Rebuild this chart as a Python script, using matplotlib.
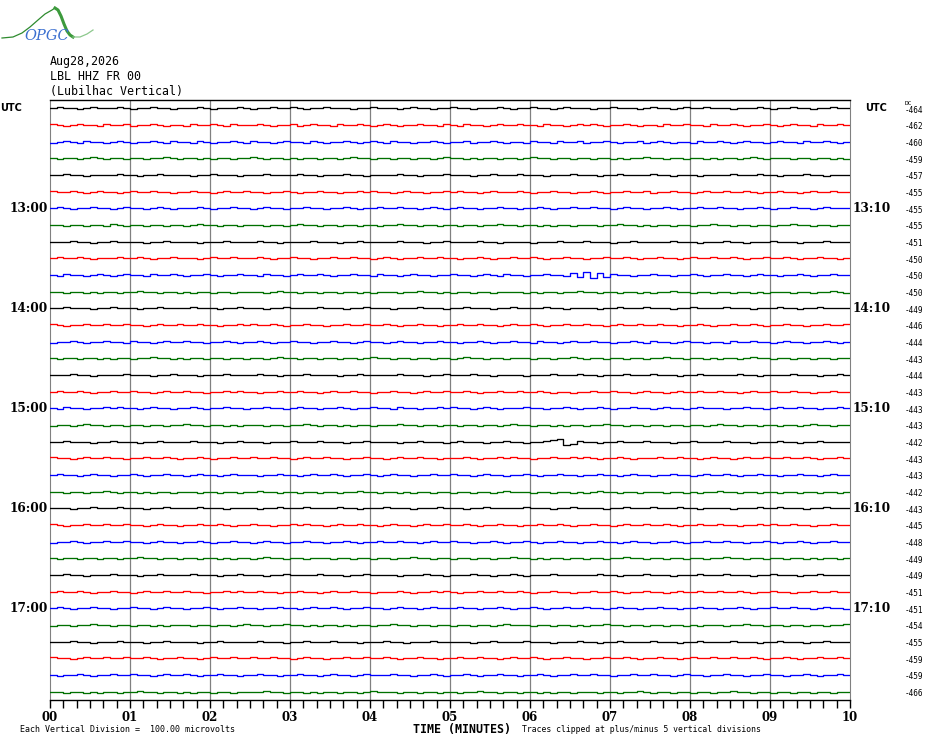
import numpy as np
import matplotlib.pyplot as plt
from matplotlib import transforms

# helicorder rows, one every 10 minutes from 12:00 to 17:50 UTC
# each string is the trace, left to right,
# '.'=0  '+'=+1  '-'=-1  '^'=+2  'v'=-2  '*'=+3  '_'=-3  (pixel-ish counts)
TRACES = [
    ".+..-.+... +.-..+..-. ..+.-...+. -..+..+.-. .+...-..+. ..-.+..-.. +..-...+.- ..+..-.+.. .-..+...-. +..-.+..+. ..-...+.-. .+..-..+..",
    "+.-.+..-+. .+-..+.-.. -+..+.-+.. .+.-..+-.+ ..-+..+.-. +.-..+..-+ .-+..-.+.. +..-+..-.+ .+.-..+.-. .-+..+..-+ ..+.-..+.- .+..-+..+.",
    "-.+.-+..-. +.-..+.-+. .-+.-..+.- +..-.+..-+ .-..+.-.+. -+..-..+.- ..+-..+.-. .-+..-+..+ -..+.-..+- .+.-..-+.. +.-.+..-.+ ..-+..+.-.",
    ".-..-.+.-. .-..-..+.- ..-.-..-.. +.-..-.-.. -..-.+..-. .-..-..-.+ ..-.-..-.. -.+..-..-. .-..-.-..+ ..-..-..-. -..-.+.-.. .-..-..-.-",
    "..+..-.... +..-..+... .-..+...-. ..+....+.. -...+..-.. ..+..-...+ ...-..+... +...-...+. ..-..+.... +..-...-.. ..+...+..- ...+..-...",
    "+..+.-.+.. -.+..+..-. .+..-.+..+ ..-..+.-.. +..-..+.+. .-.+..-..+ .+..-.+... +.-..+..-. .+.-..+..+ -..+..-.+. .+..+.-..+ ..-.+..+..",
    ".+.-..+..- .+..-.+.-. ..+.-..+.. -.+..-..+. .-..+.-..+ ..+..-.+.- .+..-..+.. -..+.-..+. .+..-.+..- ..+.-..+.. +..-..+.-. .+..-.+...",
    "..-..-..-+ .-..-..-.. -.+..-..-. ..-..-.+.. -..-..-..- ..+..-..-. .-..-..+.. -..-.-..-. ..-..+..-. -..-..-..+ ..-..-..-. .+..-..-..",
    "...+..-..+ ....-..+.. ..-...+... .+..-....+ ...-..+... ..+...-..+ ....+..-.. ..-...+... +...-..+.. ...+...-.. .+..-...+. ..-...+...",
    ".+..+.-... +..+.-..+. ..-.+..+.. .+.-..+..- ..+..+..-. +.-..+..+. .-..+.-..+ ..+.-..+.. -..+..+.-. .+..-.+..+ ..+.-..+.. +.-..+..-.",
    ".-+..-.+.- .+..-+..+. -..+.-..+. .-+..-.+.. +.-..+..-+ ..-.+..-.. +..-.+.-+. .-..+..-^v *_^v+..-.. +..-..+.-. .+..-.+..- ..+.-..+..",
    "..-..-.-.. -..+..-..- .-..-..-.. ..-.+..-.. -..-..-.-. ..-..+..-. -..-..-... .-.-..-..+ ..-..-..-. -..+..-..- ..-..-.-.. .-..-..+.-",
    "..+...-..+ ...-..+... .+...-..+. ..-..+.... +...-..+.. .-...+...- ..+...-..+ ....+..-.. ..-..+...+ ...-..+... .+...-...+ ..-..+....",
    "+.-..+..+. .+..-.+..+ ..+..-..+. +..+.-..+. .-..+..+.. +.-..+..-. .+..+..-.+ ..+.-..+.. +..-.+..+. .+..-..+.- ..+..+.-.. +..-..+..+",
    "-..+.-..+. .-+..-.+.. +..-..+.-. .+.-..+..- ..+..-.+.. -.+..-..+. .-..+.-..+ ..-+..-.+. .+..-..+.- +..-.+..-. .-+..+..-. +..-..+.-.",
    ".-..-..-.- ..-..+..-. -..-..-..- ..-.+..-.. -..-..-.+. .-..-..-.. -.+..-..-. ..-..-..+. -..-..-..- ..+..-..-. -..-.+..-. .-..-..-..",
    "...+..-... .+...-..+. ..-...+... .+..-...+. ...-..+... ..+...-..+ ...+..-... .-...+...+ ..-...+... +...-..+.. ...+..-... .+...-..+.",
    ".+..+.-..+ ..+..-.+.. +..-..+.+. .-..+..+.. -.+..+..-. .+..-.+..+ ..+.-..+.. +..+.-..-. .+..+..-.+ ..-.+..+.. +..-.+..+. .+..-..+..",
    ".-+..-..+. +..-.+..-. .+.-..+..- ..+..-.+.. -..+.-..+. .-+..-..+. +..-.+.-.. .+..-..+.- ..+.-..+.. -.+..-.+.. .-..+..-.+ ..+..-..+.",
    "-..-.+..-. .-..-..-.. +..-..-.-. ..-..-..+. -..-.-..-. ..+..-..-. .-..-..-.+ ..-..-.-.. -..+..-..- ..-..-..-. +..-..-..- ..-.+..-..",
    "..+...-..+ ...-..+... .+...-..+. ..-...+... +...-..+.. ..-..+...- .+...-..+. .-..+^*_v+ ..-..+...+ ...-..+... .+...-...+ ..-..+....",
    "+..-.+..+. .-..+..+.- ..+.-..+.. +..+..-.+. .+..-..+.. -.+..+..-. ..+.-..+.+ ..-..+..+. +.-..+.-.. .+..+..-.+ ..-.+..+.. +..+.-..+.",
    ".+..-.+..- ..+.-..+.. -.+..-.+.. .-..+..-.+ ..+.-..+.- .+..-..+.. +..-.+..-. .+.-..+..- ..+..-.+.. -..+..-.+. .+.-..+..- ..+..-.+..",
    "..-..-..+. -..-.-..-. ..-..-..-. .+..-..-.. -..-..+..- ..-.-..-.. -..-..-.+. ..-..-..-. -.+..-..-. ..-..-.-.. +..-..-..- ..-..-..-.",
    "...-..+... +...-..+.. ..+...-... .-..+...+. ...+..-... +...-...+. ..-..+.... .+...-..+. ...-..+... +...+..-.. ..-...+..+ ...-..+...",
    "+.-..+..+. .+..-.+..- ..+..+.-.. +..-..+.+. .-.+..+..- .+..-.+..+ ..+.-..+.. -..+..+.-. .+..-.+..+ ..+.-..+.. +..-..+.+. .+..-..+..",
    "-..+.-..+. .+..-.+..- ..+.-..+.. -.+..-..+. .-..+.-..+ ..+..-.+.. +..-..+.-. .+.-..+..- ..+..-.+.. -..+.-..+. .+..-..+.- ..+.-..+..",
    ".-..-..-.. -..+..-..- ..-..-.-.. -.+..-..-. ..-..-..-. .-..+..-.. -..-..-..+ ..-.-..-.. -..-..+..- ..-..-..-. .+..-..-.. -..-.-..-.",
    "..+..-...+ ...-..+... .+...-..+. ..-..+.... +...-..+.. ..-...+..- ...+..-..+ .-...+.... ..+..-...+ ...-...+.. .+...-..+. ..-..+....",
    ".+..+.-..+ ..-.+..+.. +..-..+.+. .+..-..+.. -.+..+..-. ..+.-..+.+ .-..+..+.. +.-..+..-. .+..+.-..+ ..-.+..+.. +..+.-..+. .-..+..+..",
    ".+.-..+..- ..+..-.+.. -..+.-..+. .-..+..-.+ ..+.-..+.. -.+..-.+.. .+..-..+.- ..+.-..+.. +..-.+..-. .+..-..+.. -..+.-..+. .+..-.+..-",
    "-..-..+..- ..-..-.-.. .-..-..-.+ ..-..+..-. -..-.-..-. .+..-..-.. -..-..-.+. ..-..-..-. -..+..-..- ..-..-.-.. .-..+..-.. -..-..-..+",
    "...+..-... +...-..+.. ..-..+.... .+...-..+. ..+...-... +..-...+.. ...-..+... .+...-...+ ..-..+.... +...-..+.. ..+...-..+ ...-..+...",
    "+..-.+..+. .+..+.-..+ ..-.+..+.. +..+..-.+. .-..+..+.. +.-..+..-. .+..+..-.+ ..+.-..+.. -..+..+.-. .+..-.+..+ ..+..+.-.. +.-..+..+.",
    ".-..+.-..+ ..+..-.+.. +.-..+..-. .+..-..+.. -.+..-.+.. .+..-..+.- ..+.-..+.. -..+.-..+. .+..-..+.. +..-.+..-. .+..-..+.. -..+.-..+.",
    "..-..-.-.. -..+..-..- .-..-..-.. ..+..-..-. -..-..-.+. ..-..-..-. .-..+..-.. -..-.-..-. ..-..-..+. -..-..-..- ..+..-..-. .-..-..-..",
]

DC_LABELS = [-464, -462, -460, -459, -457, -455, -455, -455, -451, -450, -450, -450,
             -449, -446, -444, -443, -444, -443, -443, -443, -442, -443, -443, -442,
             -443, -445, -448, -449, -449, -451, -451, -454, -455, -459, -459, -466]

HOUR_ROWS = [6, 12, 18, 24, 30]
LEFT_TIMES = ["13:00", "14:00", "15:00", "16:00", "17:00"]
RIGHT_TIMES = ["13:10", "14:10", "15:10", "16:10", "17:10"]
MINUTES = list(range(11))
MINUTE_LABELS = ["%02d" % m for m in MINUTES]

COLORS = ["black", "#ff0000", "#0000ff", "#007000"]
CODES = {".": 0, "+": 1, "-": -1, "^": 2, "v": -2, "*": 3, "_": -3}
COUNT_SCALE = 0.06  # one count ~ one pixel, row spacing ~16.7 px

W, H = 930, 744
fig = plt.figure(figsize=(W / 100, H / 100), dpi=100)
ax = fig.add_axes([50 / W, 44 / H, 800 / W, 600 / H])

n_rows = len(TRACES)
for i, s in enumerate(TRACES):
    vals = np.array([CODES[c] for c in s.replace(" ", "")], dtype=float)
    t = (np.arange(len(vals)) + 0.5) * 10.0 / len(vals)
    t = np.concatenate([[0.0], t, [10.0]])
    vals = np.concatenate([[vals[0]], vals, [vals[-1]]])
    ax.plot(t, -i + vals * COUNT_SCALE, color=COLORS[i % 4], lw=0.95,
            drawstyle="steps-mid", zorder=3)

for m in MINUTES[1:-1]:
    ax.axvline(m, color="#808080", lw=0.9, zorder=1)

ax.set_xlim(0, 10)
ax.set_ylim(-n_rows + 0.5, 0.5)
ax.set_yticks([])
ax.set_xticks(MINUTES)
ax.set_xticklabels(MINUTE_LABELS, fontfamily="DejaVu Serif", fontweight="bold",
                   fontsize=8.5)
ax.set_xticks(np.arange(0, 10.01, 1 / 6), minor=True)
ax.tick_params(axis="x", which="both", direction="out", length=6, width=1,
               color="black", pad=2)
ax.spines["left"].set_color("#808080")
ax.spines["right"].set_color("#808080")
for side in ["top", "bottom"]:
    ax.spines[side].set_color("black")
    ax.spines[side].set_linewidth(1.0)

# texts alongside rows: x in figure fraction, y in data rows
trans = transforms.blended_transform_factory(fig.transFigure, ax.transData)
for r, lt, rt in zip(HOUR_ROWS, LEFT_TIMES, RIGHT_TIMES):
    ax.text(48 / W, -r, lt, transform=trans, ha="right", va="center",
            fontfamily="DejaVu Serif", fontweight="bold", fontsize=8.7)
    ax.text(853 / W, -r, rt, transform=trans, ha="left", va="center",
            fontfamily="DejaVu Serif", fontweight="bold", fontsize=8.7)
for i, dc in enumerate(DC_LABELS):
    ax.text(905 / W, -i - 0.1, str(dc), transform=trans, ha="left", va="center",
            fontfamily="DejaVu Sans Mono", fontsize=5.6)

ax.text(0, 0.05, "UTC", transform=trans, ha="left", va="center",
        fontweight="bold", fontsize=7)
ax.text(865 / W, 0.05, "UTC", transform=trans, ha="left", va="center",
        fontweight="bold", fontsize=7)
ax.text(905 / W, 0.3, "DC", transform=trans, ha="left", va="center",
        fontfamily="DejaVu Sans Mono", fontsize=4.5)

# header
mono = "DejaVu Sans Mono"
fig.text(50 / W, 1 - 62 / H, "Aug28,2026", family=mono, fontsize=8.4, va="center")
fig.text(50 / W, 1 - 77 / H, "LBL HHZ FR 00", family=mono, fontsize=8.4, va="center")
fig.text(50 / W, 1 - 91 / H, "(Lubilhac Vertical)", family=mono, fontsize=8.4,
         va="center")

# footer
fig.text(20 / W, 1 - 730 / H, "Each Vertical Division =  100.00 microvolts",
         family=mono, fontsize=6.0, va="center")
fig.text(413 / W, 1 - 729 / H, "TIME (MINUTES)", family=mono, fontweight="bold",
         fontsize=8.4, va="center")
fig.text(522 / W, 1 - 730 / H, "Traces clipped at plus/minus 5 vertical divisions",
         family=mono, fontsize=5.9, va="center")

# OPGC logo, top left
logo = fig.add_axes([0, 1 - 45 / H, 100 / W, 45 / H])
logo.set_xlim(0, 100)
logo.set_ylim(45, 0)
logo.axis("off")
logo_x = [2, 13, 22, 30, 38, 45, 52, 55]
logo_y = [38, 37, 33, 27, 20, 14, 10, 8]
logo.plot(logo_x, logo_y, color="#2e8b2e", lw=0.9)
logo.plot([55, 58, 61, 64, 67, 70, 73], [8, 10, 16, 24, 31, 35, 37],
          color="#3c9a3c", lw=2.2)
logo.plot([73, 80, 87, 93], [37, 37, 34, 30], color="#8cc88c", lw=0.9)
logo.text(47, 36, "OPGC", color="#3a6fd0", fontsize=10.5, style="italic",
          family="DejaVu Serif", ha="center", va="center")

fig.savefig("out.png", dpi=100)
